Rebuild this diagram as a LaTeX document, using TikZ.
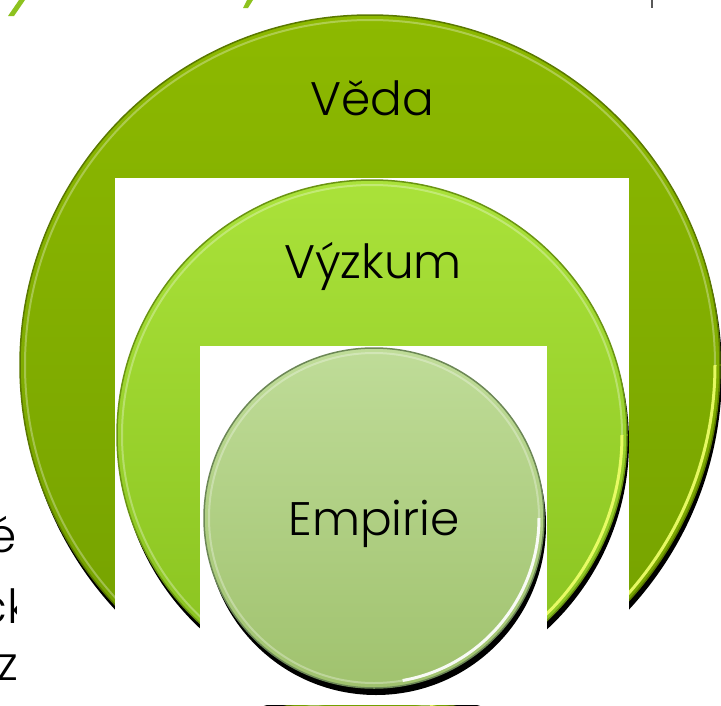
\documentclass[tikz,border=0pt]{standalone}
\usepackage{fontspec}
\setmainfont{Poppins Light}
\usetikzlibrary{positioning}
\definecolor{vedatop}{HTML}{8DB900}
\definecolor{vedabottom}{HTML}{73A000}
\definecolor{vedarim}{HTML}{5A7800}
\definecolor{vyzkumtop}{HTML}{AAE23A}
\definecolor{vyzkumbottom}{HTML}{88C11E}
\definecolor{vyzkumrim}{HTML}{6A9412}
\definecolor{empirietop}{HTML}{BFDC98}
\definecolor{empiriebottom}{HTML}{A0C26E}
\definecolor{empirierim}{HTML}{6C8756}
\definecolor{titlegreen}{HTML}{8DC21F}
\definecolor{shine}{HTML}{EEFF66}
\tikzset{
  label text/.style={font=\fontsize{47}{56}\selectfont, text=black, inner sep=0pt},
  cutout/.style={fill=white},
}
% one glossy disc: centre, radius, top colour, bottom colour, rim colour, shine colour
\newcommand{\glassdisc}[6]{%
  \fill[black] (#1) ++(2,7) circle (#2);
  \shade[top color=#3, bottom color=#4] (#1) circle (#2);
  \draw[white, opacity=0.3, line width=2] (#1) circle ({#2-5});
  \draw[#6, opacity=0.9, line width=3] (#1) ++(0:{#2-5}) arc (0:80:{#2-5});
  \draw[#5, line width=1.5] (#1) circle (#2);
}

\begin{document}
\begin{tikzpicture}[x=1pt, y=-1pt]
        % Frame
        \useasboundingbox (0,0) rectangle (721,705);
        \clip (0,0) rectangle (721,705);
        % Bits of the slide behind
        \fill[titlegreen] (19,0) -- (25,0) -- (14,16) -- (8,16) -- cycle;
        \fill[titlegreen] (247,0) -- (253,0) -- (248,8) -- (243,8) -- cycle;
        \draw[black!65, line width=2] (652,0) -- (652,8);
        \begin{scope}
          \clip (0,480) rectangle (16,705);
          \node[label text, anchor=base east] (frag1) at (17,552) {é};
          \node[label text, anchor=base east] (frag2) at (30,623) {ck};
          \node[label text, anchor=base east] (frag3) at (18,680) {oz};
        \end{scope}
        % Outer disc
        \glassdisc{370,365}{350}{vedatop}{vedabottom}{vedarim}{shine}
        \fill[cutout] (115,178) rectangle (629,705);
        % Middle disc
        \glassdisc{372,435}{255}{vyzkumtop}{vyzkumbottom}{vyzkumrim}{shine}
        \fill[cutout] (200,346) rectangle (547,705);
        % Inner disc
        \glassdisc{374,518}{170}{empirietop}{empiriebottom}{empirierim}{white}
        % Labels
        \node[label text, anchor=base] (veda) at (372,115) {Věda};
        \node[label text, anchor=base] (vyzkum) at (373,278) {Výzkum};
        \node[label text, anchor=base] (empirie) at (374,535) {Empirie};
\end{tikzpicture}
\end{document}
